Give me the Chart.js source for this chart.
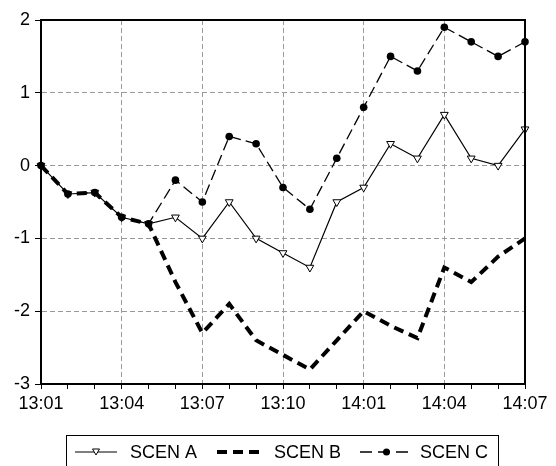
<!DOCTYPE html>
<html lang="en">
<head>
<meta charset="UTF-8">
<title>Scenarios</title>
<script src="https://cdn.jsdelivr.net/npm/chart.js"></script>
<style>
  html, body { margin: 0; padding: 0; background: #fff; }
  #wrap { width: 556px; height: 466px; position: relative; }
</style>
</head>
<body>
<div id="wrap"><canvas id="scenChart"></canvas></div>
<script>
var labels = ['13:01', '13:02', '13:03', '13:04', '13:05', '13:06', '13:07', '13:08', '13:09', '13:10',
              '13:11', '13:12', '14:01', '14:02', '14:03', '14:04', '14:05', '14:06', '14:07'];
var scenA = [0, -0.39, -0.37, -0.71, -0.8, -0.71, -1.0, -0.5, -1.0, -1.2, -1.4, -0.5, -0.3, 0.3, 0.1, 0.7, 0.1, 0.0, 0.5];
var scenB = [0, -0.39, -0.37, -0.71, -0.8, -1.6, -2.3, -1.9, -2.4, -2.6, -2.8, -2.4, -2.0, -2.2, -2.37, -1.4, -1.6, -1.25, -1.0];
var scenC = [0, -0.39, -0.37, -0.71, -0.8, -0.2, -0.5, 0.4, 0.3, -0.3, -0.6, 0.1, 0.8, 1.5, 1.3, 1.9, 1.7, 1.5, 1.7];
var yMin = -3, yMax = 2;
var seriesNames = ['SCEN A', 'SCEN B', 'SCEN C'];

var FONT = '"Liberation Sans", Arial, sans-serif';
var gridGrey = '#9a9a9a';

// box around the plot area
var frame = {
  id: 'frame',
  afterDatasetsDraw: function (chart) {
    var a = chart.chartArea, ctx = chart.ctx;
    ctx.save();
    ctx.strokeStyle = '#000';
    ctx.lineWidth = 2;
    ctx.strokeRect(Math.round(a.left), Math.round(a.top), Math.round(a.right - a.left), Math.round(a.bottom - a.top));
    ctx.restore();
  }
};

// legend drawn in a bordered box under the x axis
var legendBox = {
  id: 'legendBox',
  afterDraw: function (chart) {
    var ctx = chart.ctx;
    var cy = 452;
    var items = [
      { x0: 75, x1: 117, tx: 130 },
      { x0: 217, x1: 263, tx: 274 },
      { x0: 360, x1: 413, tx: 420 }
    ];
    ctx.save();
    ctx.strokeStyle = '#000';
    ctx.lineWidth = 1;
    ctx.strokeRect(66.5, 435.5, 432, 40);
    ctx.font = '18px ' + FONT;
    ctx.fillStyle = '#000';
    ctx.textBaseline = 'middle';
    chart.data.datasets.forEach(function (ds, i) {
      var it = items[i];
      ctx.beginPath();
      ctx.lineWidth = ds.borderWidth;
      ctx.setLineDash(i === 2 ? [12, 6] : (ds.borderDash || []));
      ctx.moveTo(it.x0, cy);
      ctx.lineTo(it.x1, cy);
      ctx.stroke();
      ctx.setLineDash([]);
      var mx = (it.x0 + it.x1) / 2;
      if (i === 0) {
        ctx.beginPath();
        ctx.lineWidth = 1;
        ctx.moveTo(mx - 3.5, cy - 3);
        ctx.lineTo(mx + 3.5, cy - 3);
        ctx.lineTo(mx, cy + 3);
        ctx.closePath();
        ctx.fillStyle = '#fff';
        ctx.fill();
        ctx.stroke();
      } else if (i === 2) {
        ctx.beginPath();
        ctx.arc(mx, cy, 3.5, 0, Math.PI * 2);
        ctx.fillStyle = '#000';
        ctx.fill();
      }
      ctx.fillStyle = '#000';
      ctx.fillText(ds.label, it.tx, cy + 1);
    });
    ctx.restore();
  }
};

var ctx = document.getElementById('scenChart').getContext('2d');
var chart = new Chart(ctx, {
  type: 'line',
  data: {
    labels: labels,
    datasets: [{
      label: seriesNames[0],
      data: scenA,
      borderColor: '#000',
      borderWidth: 1.2,
      pointStyle: 'triangle',
      pointRotation: 180,
      pointRadius: 4.5,
      pointBackgroundColor: '#fff',
      pointBorderColor: '#000',
      pointBorderWidth: 1,
      tension: 0,
      order: 2
    }, {
      label: seriesNames[1],
      data: scenB,
      borderColor: '#000',
      borderWidth: 4,
      borderDash: [10, 6],
      pointRadius: 0,
      tension: 0,
      order: 0
    }, {
      label: seriesNames[2],
      data: scenC,
      borderColor: '#000',
      borderWidth: 1.3,
      borderDash: [11, 5],
      pointStyle: 'circle',
      pointRadius: 3.8,
      pointBackgroundColor: '#000',
      pointBorderColor: '#000',
      pointBorderWidth: 0,
      tension: 0,
      order: 1
    }]
  },
  options: {
    responsive: true,
    maintainAspectRatio: false,
    animation: false,
    layout: { padding: { top: 20, right: 31, bottom: 52, left: 0 } },
    plugins: {
      legend: { display: false },
      tooltip: { enabled: false }
    },
    scales: {
      x: {
        offset: false,
        afterFit: function (s) { s.height = 30; },
        grid: {
          color: function (c) {
            var i = c.index;
            return (i % 3 === 0 && i > 0 && i < labels.length - 1) ? gridGrey : 'rgba(0,0,0,0)';
          },
          tickColor: '#000',
          tickLength: 5,
          lineWidth: 1
        },
        border: { display: true, color: '#000', width: 2, dash: [5, 3] },
        ticks: {
          autoSkip: false,
          maxRotation: 0,
          padding: 4,
          color: '#000',
          font: { family: FONT, size: 18 },
          callback: function (v, i) { return i % 3 === 0 ? labels[i] : ''; }
        }
      },
      y: {
        min: yMin,
        max: yMax,
        afterFit: function (s) { s.width = 41; },
        grid: {
          color: function (c) {
            var v = c.tick ? c.tick.value : null;
            return (v !== yMin && v !== yMax) ? gridGrey : 'rgba(0,0,0,0)';
          },
          tickColor: '#000',
          tickLength: 6,
          lineWidth: 1
        },
        border: { display: true, color: '#000', width: 2, dash: [5, 3] },
        ticks: {
          stepSize: 1,
          padding: 5,
          color: '#000',
          font: { family: FONT, size: 18 }
        }
      }
    }
  },
  plugins: [frame, legendBox]
});
</script>
</body>
</html>
